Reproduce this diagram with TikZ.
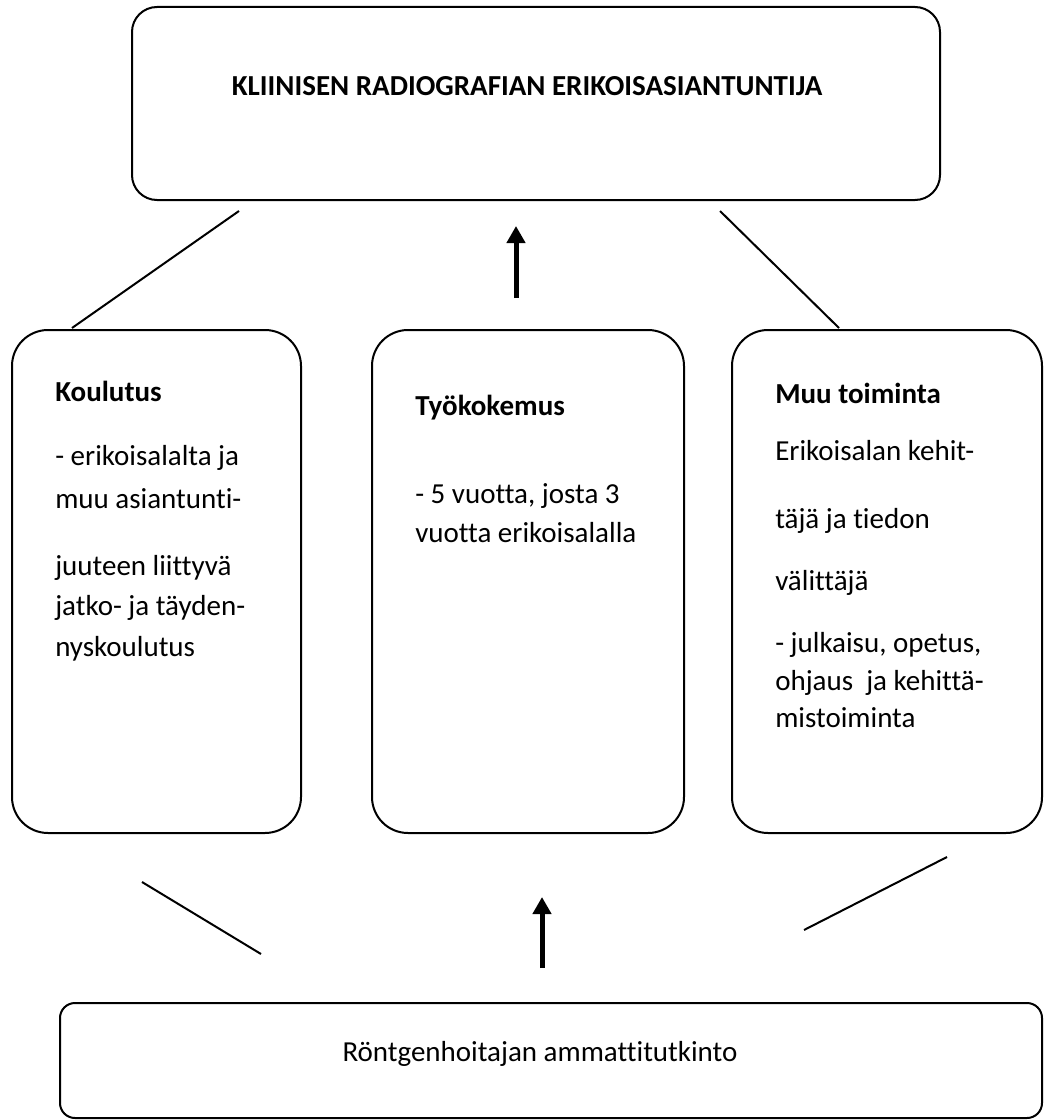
\documentclass[tikz,border=0pt]{standalone}
\usepackage{fontspec}
\setmainfont{Carlito}[Ligatures={NoCommon}]
\usetikzlibrary{arrows.meta}
\begin{document}
\begin{tikzpicture}[x=0.75pt,y=-0.75pt,
  box/.style={draw=black, line width=1.5pt, rectangle, inner sep=0pt},
  txt/.style={anchor=base west, inner sep=0pt, font=\fontsize{21.75pt}{26pt}\selectfont},
  head/.style={txt, font=\fontsize{21.75pt}{26pt}\selectfont\bfseries},
  ctxt/.style={anchor=base, inner sep=0pt, font=\fontsize{21.75pt}{26pt}\selectfont},
  link/.style={draw=black, line width=1.5pt},
  uparrow/.style={draw=black, line width=3.75pt, -{Triangle[width=13.5pt,length=12.75pt]}}]
\useasboundingbox (0,0) rectangle (1044,1120);
% boxes
\node[box, rounded corners=18.75pt, minimum width=606pt, minimum height=144.75pt] (top) at (536,103.5) {};
\node[box, rounded corners=27pt, minimum width=216.75pt, minimum height=377.25pt] (kbox) at (156.5,581.5) {};
\node[box, rounded corners=27pt, minimum width=234pt, minimum height=377.25pt] (tbox) at (528,581.5) {};
\node[box, rounded corners=27pt, minimum width=232.5pt, minimum height=377.25pt] (mbox) at (887,581.5) {};
\node[box, rounded corners=11.25pt, minimum width=736.5pt, minimum height=86.25pt] (bot) at (551,1060.5) {};
% titles
\node[ctxt, font=\fontsize{21.75pt}{26pt}\selectfont\bfseries] (toptext) at (527,96) {KLIINISEN RADIOGRAFIAN ERIKOISASIANTUNTIJA};
\node[ctxt] (bottext) at (540,1061) {Röntgenhoitajan ammattitutkinto};
% left box text
\node[head] (k0) at (55,401) {Koulutus};
\node[txt] (k1) at (55,465) {- erikoisalalta ja};
\node[txt] (k2) at (55,508) {muu asiantunti-};
\node[txt] (k3) at (55,575) {juuteen liittyvä};
\node[txt] (k4) at (55,615) {jatko- ja täyden-};
\node[txt] (k5) at (55,656) {nyskoulutus};
% middle box text
\node[head] (t0) at (415,415) {Työkokemus};
\node[txt] (t1) at (415,503) {- 5 vuotta, josta 3};
\node[txt] (t2) at (415,542) {vuotta erikoisalalla};
% right box text
\node[head] (m0) at (775,403) {Muu toiminta};
\node[txt] (m1) at (775,460) {Erikoisalan kehit-};
\node[txt] (m2) at (775,528) {täjä ja tiedon};
\node[txt] (m3) at (775,590) {välittäjä};
\node[txt] (m4) at (775,652) {- julkaisu, opetus,};
\node[txt] (m5) at (775,690) {ohjaus\ \ ja kehittä-};
\node[txt] (m6) at (775,727) {mistoiminta};
% connector end points
\coordinate (a1) at (239,211);
\coordinate (a2) at (72,328);
\coordinate (b1) at (720,211);
\coordinate (b2) at (839,328);
\coordinate (c1) at (516,298);
\coordinate (c2) at (516,226);
\coordinate (d1) at (142,882);
\coordinate (d2) at (261,954);
\coordinate (e1) at (542,968);
\coordinate (e2) at (542,897);
\coordinate (f1) at (804,930);
\coordinate (f2) at (947,857);
\draw[link] (a1) -- (a2);
\draw[link] (b1) -- (b2);
\draw[uparrow] (c1) -- (c2);
\draw[link] (d1) -- (d2);
\draw[uparrow] (e1) -- (e2);
\draw[link] (f1) -- (f2);
\end{tikzpicture}
\end{document}
